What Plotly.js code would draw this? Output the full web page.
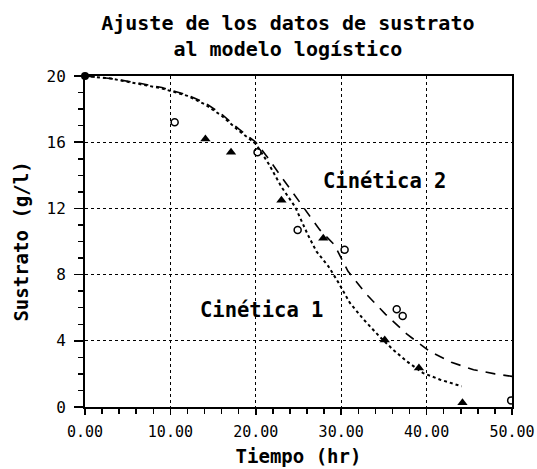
<!DOCTYPE html>
<html><head><meta charset="utf-8">
<script src="https://cdn.plot.ly/plotly-3.0.1.min.js"></script>
<style>html,body{margin:0;padding:0;background:#fff;}#chart{width:537px;height:469px;}</style>
</head><body><div id="chart"></div>
<script>
// Datos experimentales
const tri_x = [14.1, 17.1, 23.0, 27.9, 35.1, 39.1, 44.2];
const tri_y = [16.2, 15.4, 12.5, 10.2, 4.05, 2.35, 0.25];
const circ_x = [10.5, 20.2, 24.9, 30.4, 36.5, 37.2, 49.9];
const circ_y = [17.2, 15.4, 10.7, 9.5, 5.9, 5.5, 0.4];
const start_x = [0];
const start_y = [20];
// Cinética 1 (punteada)
const c1_x = [0, 3, 6, 9, 12, 14, 16, 18, 20, 21.5, 23, 24.6, 26.1, 27.1, 28.5, 29.7, 31, 32.6, 34.5, 36.1, 37.7, 39.6, 41.6, 44.1];
const c1_y = [20, 19.85, 19.55, 19.25, 18.8, 18.3, 17.6, 16.7, 15.9, 14.7, 13.3, 12.1, 10.4, 9.4, 8.5, 7.5, 6.3, 5.3, 4.25, 3.45, 2.75, 2.05, 1.65, 1.25];
// Cinética 2 (discontinua)
const c2_x = [0, 3, 6, 9, 12, 14, 16, 18, 20, 21.5, 23, 25.2, 27.5, 29.2, 30.8, 32.8, 35.2, 37.7, 40.4, 42.9, 45.5, 48, 50];
const c2_y = [20, 19.85, 19.6, 19.3, 18.85, 18.4, 17.7, 16.8, 16.0, 15.0, 13.9, 12.3, 10.7, 9.8, 8.2, 6.9, 5.6, 4.4, 3.35, 2.7, 2.25, 2.0, 1.85];
const x_ticks = [0, 10, 20, 30, 40, 50];
const x_labels = ['0.00', '10.00', '20.00', '30.00', '40.00', '50.00'];
const y_ticks = [0, 4, 8, 12, 16, 20];
const title_text = 'Ajuste de los datos de sustrato<br>al modelo logístico';
const label1 = 'Cinética 1';
const label2 = 'Cinética 2';

const F = '"DejaVu Sans Mono", monospace';
const traces = [
  {x: c1_x, y: c1_y, mode: 'lines', line: {color: '#000', width: 2, dash: 'dot'}, hoverinfo: 'skip'},
  {x: c2_x, y: c2_y, mode: 'lines', line: {color: '#000', width: 1.6, dash: '10px,8px'}, hoverinfo: 'skip'},
  {x: tri_x, y: tri_y, mode: 'markers', marker: {symbol: 'triangle-up', size: 9, color: '#000'}},
  {x: circ_x, y: circ_y, mode: 'markers', marker: {symbol: 'circle-open', size: 7, color: '#000', line: {width: 1.5, color: '#000'}}},
  {x: start_x, y: start_y, mode: 'markers', marker: {symbol: 'circle', size: 8, color: '#000'}, cliponaxis: false}
];
const layout = {
  width: 537, height: 469,
  margin: {l: 85, r: 25, t: 76, b: 62},
  paper_bgcolor: '#fff', plot_bgcolor: '#fff',
  showlegend: false,
  title: {text: title_text, font: {family: F, size: 20, color: '#000', weight: 'bold'},
          x: 0.536, xanchor: 'center', xref: 'container', y: 0.935, yanchor: 'top', yref: 'container'},
  xaxis: {range: [0, 50], tickvals: x_ticks, ticktext: x_labels,
          showgrid: true, gridcolor: '#000', gridwidth: 1.3, griddash: 'dot',
          showline: true, linecolor: '#000', linewidth: 2, mirror: true,
          ticks: 'outside', ticklen: 6, tickwidth: 1.5, tickcolor: '#000',
          minor: {dtick: 2, ticks: 'outside', ticklen: 5, tickwidth: 1.5, tickcolor: '#000', showgrid: false},
          zeroline: false, ticklabelstandoff: 4,
          tickfont: {family: F, size: 15, color: '#000'},
          title: {text: 'Tiempo (hr)', font: {family: F, size: 19, color: '#000', weight: 'bold'}, standoff: 10}},
  yaxis: {range: [0, 20], tickvals: y_ticks,
          showgrid: true, gridcolor: '#000', gridwidth: 1.3, griddash: 'dot',
          showline: true, linecolor: '#000', linewidth: 2, mirror: true,
          ticks: 'outside', ticklen: 9, tickwidth: 1.5, tickcolor: '#000',
          minor: {dtick: 1, ticks: 'outside', ticklen: 5, tickwidth: 1.5, tickcolor: '#000', showgrid: false},
          zeroline: false, ticklabelstandoff: 5,
          tickfont: {family: F, size: 16, color: '#000'},
          title: {text: 'Sustrato (g/l)', font: {family: F, size: 19, color: '#000', weight: 'bold'}, standoff: 13}},
  annotations: [
    {x: 20.7, y: 5.86, xref: 'x', yref: 'y', text: label1, showarrow: false,
     font: {family: F, size: 20.5, color: '#000', weight: 'bold'}},
    {x: 35.1, y: 13.65, xref: 'x', yref: 'y', text: label2, showarrow: false,
     font: {family: F, size: 20.5, color: '#000', weight: 'bold'}}
  ]
};
Plotly.newPlot('chart', traces, layout, {staticPlot: true, displayModeBar: false});
</script></body></html>
